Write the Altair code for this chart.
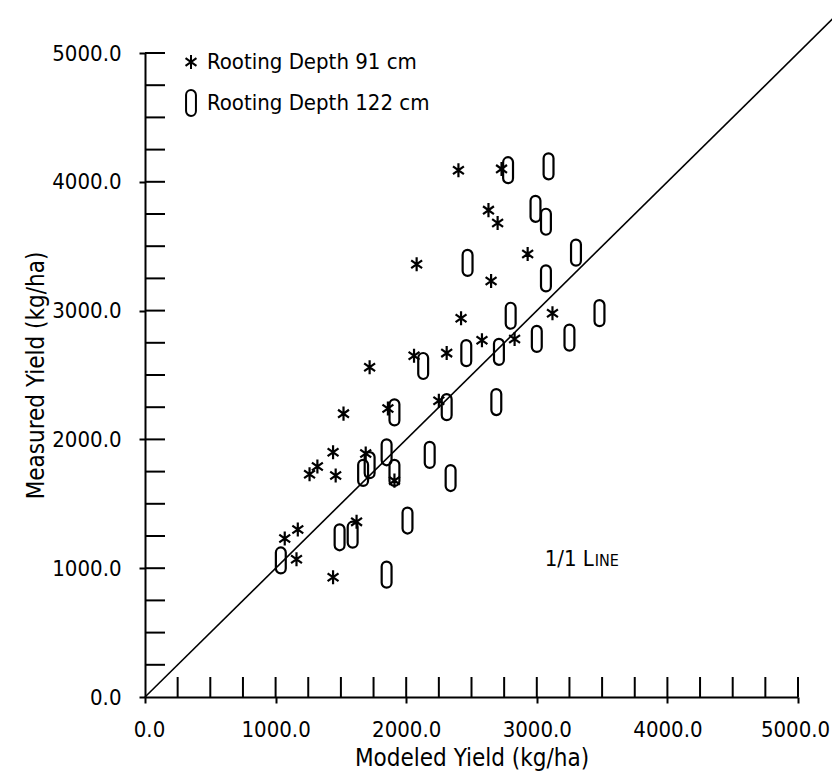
import altair as alt
import pandas as pd

# ---- data ----
series_names = ["Rooting Depth 91 cm", "Rooting Depth 122 cm"]

star_x = [2400, 2730, 2630, 2700, 2930, 2080, 2650, 3120, 2420, 2310, 2580, 2830, 2060, 1720,
          1520, 1860, 2250, 1440, 1320, 1260, 1460, 1690, 1910, 1620, 1170, 1070, 1160, 1440]
star_y = [4090, 4100, 3780, 3680, 3440, 3360, 3230, 2980, 2940, 2670, 2770, 2780, 2650, 2560,
          2200, 2240, 2300, 1900, 1790, 1730, 1720, 1890, 1680, 1360, 1300, 1230, 1070, 930]

zero_x = [2780, 3090, 2990, 3070, 2470, 3300, 3070, 2800, 3480, 2460, 2710, 3000, 3250, 2310,
          2690, 2130, 1910, 1850, 2180, 1720, 1670, 1910, 2340, 2010, 1490, 1590, 1040, 1850]
zero_y = [4090, 4120, 3790, 3690, 3370, 3450, 3250, 2960, 2980, 2670, 2680, 2780, 2790, 2250,
          2290, 2570, 2210, 1900, 1880, 1800, 1740, 1740, 1700, 1370, 1240, 1260, 1060, 950]

axis_values = [0, 1000, 2000, 3000, 4000, 5000]
minor_ticks = [250 * i for i in range(1, 21)]

line_x = [0, 5400]
line_y = [0, 5400]

note_x = [3060]
note_y = [1020]
note_big = ["1/1 L"]
note_small = ["INE"]

# ---- build tables ----
pts = pd.DataFrame({
    "x": star_x + zero_x,
    "y": star_y + zero_y,
    "series": [series_names[0]] * len(star_x) + [series_names[1]] * len(zero_x),
})
ticks = pd.DataFrame({"v": minor_ticks})
line_df = pd.DataFrame({"x": line_x, "y": line_y})
note_df = pd.DataFrame({"x": note_x, "y": note_y, "big": note_big, "small": note_small})

W, H = 653, 644
FONT = "DejaVu Sans Condensed"

xs = alt.Scale(domain=[0, 5000], nice=False, zero=False)
ys = alt.Scale(domain=[0, 5000], nice=False, zero=False)

asterisk = "M0,-0.54L0,0.54M-0.42,-0.3L0.42,0.3M-0.42,0.3L0.42,-0.3"
oval = "M-0.38,-0.62A0.38,0.38 0 0 1 0.38,-0.62L0.38,0.62A0.38,0.38 0 0 1 -0.38,0.62Z"

x_axis = alt.Axis(values=axis_values, format=".1f", tickSize=6, tickWidth=2,
                  labelFont=FONT, labelFontSize=22, labelPadding=16, labelOverlap=False,
                  labelFlush=False,
                  labelOffset={"expr": "datum.value == 5000 ? -3 : (datum.value == 0 ? 4 : 0)"},
                  title="Modeled Yield (kg/ha)", titleFont=FONT,
                  titleFontSize=24, titleFontWeight="normal", titlePadding=6,
                  domainWidth=2, domainColor="black", tickColor="black",
                  labelColor="black", titleColor="black", grid=False)
y_axis = alt.Axis(values=axis_values, format=".1f", tickSize=6, tickWidth=2,
                  labelFont=FONT, labelFontSize=22, labelPadding=18, labelOverlap=False,
                  labelFlush=False, title="Measured Yield (kg/ha)", titleFont=FONT,
                  titleFontSize=24, titleFontWeight="normal", titlePadding=3,
                  domainWidth=2, domainColor="black", tickColor="black",
                  labelColor="black", titleColor="black", grid=False)

X = lambda f: alt.X(f, scale=xs, axis=x_axis)
Y = lambda f: alt.Y(f, scale=ys, axis=y_axis)

points = alt.Chart(pts).mark_point(filled=False, color="black", strokeWidth=2.2, size=676,
                                   opacity=1).encode(
    x=X("x:Q"),
    y=Y("y:Q"),
    shape=alt.Shape("series:N", scale=alt.Scale(domain=series_names, range=[asterisk, oval]),
                    legend=alt.Legend(title=None, orient="none", legendX=32, legendY=-5,
                                      labelFont=FONT, labelFontSize=22, labelColor="black",
                                      labelLimit=500,
                                      symbolSize=676, symbolStrokeWidth=2,
                                      symbolStrokeColor="black", symbolFillColor="transparent",
                                      rowPadding=12, labelOffset=2, padding=0)),
)

xticks = alt.Chart(ticks).mark_rule(color="black", strokeWidth=2).encode(
    x=X("v:Q"),
    y=alt.value(H), y2=alt.value(H - 20),
)
yticks = alt.Chart(ticks).mark_rule(color="black", strokeWidth=2).encode(
    y=Y("v:Q"),
    x=alt.value(0), x2=alt.value(20),
)

one_line = alt.Chart(line_df).mark_line(color="black", strokeWidth=1.6).encode(
    x=X("x:Q"),
    y=Y("y:Q"),
)

note1 = alt.Chart(note_df).mark_text(align="left", baseline="alphabetic", font=FONT,
                                     fontSize=22, color="black").encode(
    x=X("x:Q"), y=Y("y:Q"), text="big:N")
note2 = alt.Chart(note_df).mark_text(align="left", baseline="alphabetic", font=FONT,
                                     fontSize=16, color="black", dx=50).encode(
    x=X("x:Q"), y=Y("y:Q"), text="small:N")

chart = alt.layer(one_line, xticks, yticks, points, note1, note2).properties(
    width=W, height=H,
    autosize=alt.AutoSizeParams(type="none"),
    padding={"left": 145, "top": 53, "right": 34, "bottom": 83},
    background="white",
).configure_view(stroke=None)

chart.save("out.html", embed_options={"renderer": "svg", "actions": False})
